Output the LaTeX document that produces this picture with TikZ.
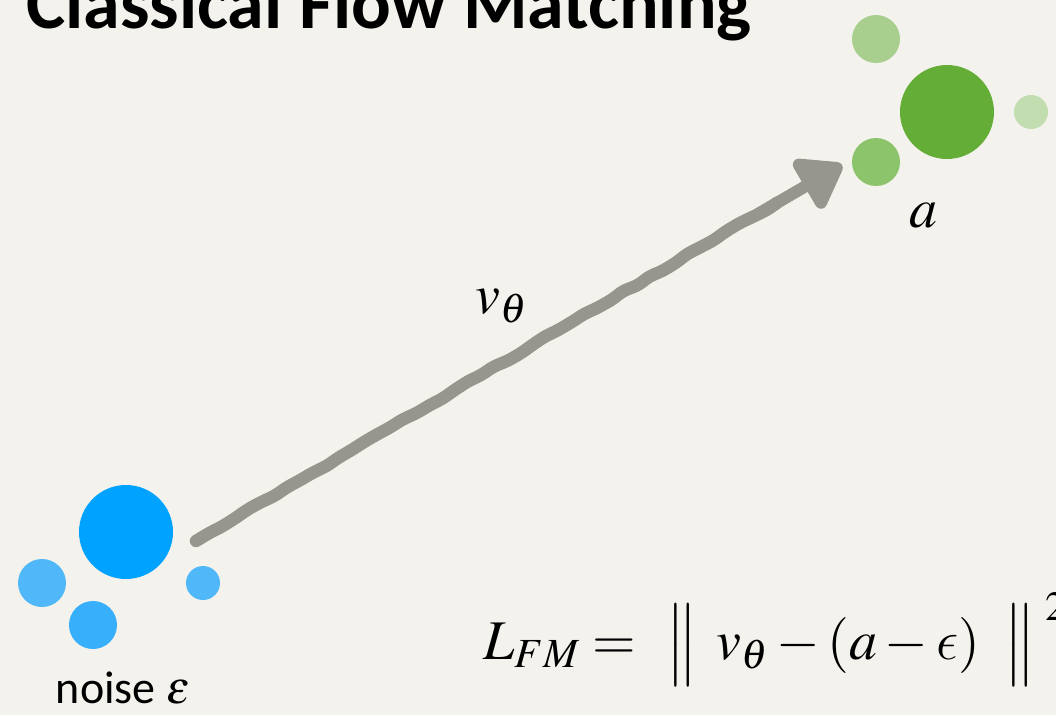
\RequirePackage{fix-cm}
\documentclass[tikz,border=0pt]{standalone}
\usepackage{mathptmx}
\usepackage{fontspec}
\newfontfamily\calibri{Carlito}
\usetikzlibrary{arrows.meta,decorations.pathmorphing,calc}

\newcommand{\lunateps}{\mbox{\usefont{OML}{cmm}{m}{it}\symbol{15}}}
\newcommand{\normbar}{\mathord{\vcenter{\hbox{\scalebox{1}[1.2]{$\big\|$}}}}}

\definecolor{paper}{HTML}{F3F2EC}
\definecolor{noiseA}{HTML}{00A2FF}
\definecolor{noiseB}{HTML}{50B8F8}
\definecolor{noiseC}{HTML}{38AFFA}
\definecolor{dataA}{HTML}{64AE38}
\definecolor{dataB}{HTML}{A9CF8F}
\definecolor{dataC}{HTML}{8CC46C}
\definecolor{dataD}{HTML}{C2DDAF}
\definecolor{flowgray}{HTML}{97968E}

\begin{document}
\begin{tikzpicture}[x=1pt,y=-1pt,
dot/.style={circle,inner sep=0pt,minimum size=#1},
lbl/.style={inner sep=0pt,font=\fontsize{56}{60}\selectfont},
shaft/.style={draw=flowgray,line width=12.5pt,line cap=round,decorate,decoration={random steps,segment length=15pt,amplitude=1.3pt},rounded corners=5pt},
head/.style={draw=flowgray,line width=12pt,-{Triangle[length=48pt,width=64pt,round]}}]

\useasboundingbox[fill=paper] (0,0) rectangle (1056,715);

\node[anchor=base west,inner sep=0pt,font=\calibri\bfseries\fontsize{74}{80}\selectfont] (title) at (26,28) {Classical Flow Matching};

% noise samples
\node[dot=94pt,fill=noiseA] (eps) at (126,532) {};

\node[dot=48pt,fill=noiseB] (epsl) at (42,583) {};

\node[dot=48pt,fill=noiseC] (epsb) at (93,625) {};

\node[dot=34pt,fill=noiseB] (epsr) at (203,583) {};

\node[anchor=base,inner sep=0pt,font=\calibri\fontsize{46}{50}\selectfont] (noiselbl) at (123,703) {noise $\varepsilon$};

% data samples
\node[dot=94pt,fill=dataA] (tgt) at (947,112) {};

\node[dot=48pt,fill=dataB] (tgtu) at (876,39) {};

\node[dot=48pt,fill=dataC] (tgtd) at (876,162) {};

\node[dot=34pt,fill=dataD] (tgtr) at (1031,112) {};

\node[lbl,anchor=base] (albl) at (923,227) {$a$};

% flow
\coordinate (start) at (196,541);

\coordinate (tip) at (842,165);

\pgfmathsetseed{7}
\draw[shaft] (start) -- ($(start)!0.9!(tip)$);

\draw[head] ($(start)!0.87!(tip)$) -- (tip);

\node[lbl,anchor=base west] (vlbl) at (475,313) {$v_\theta$};

\node[lbl,anchor=base west] (loss) at (483,659) {$L_{FM} =\mkern6mu\normbar\;\, v_\theta - (a-\lunateps)\mkern8mu\normbar^{\;2}$};

\end{tikzpicture}
\end{document}
